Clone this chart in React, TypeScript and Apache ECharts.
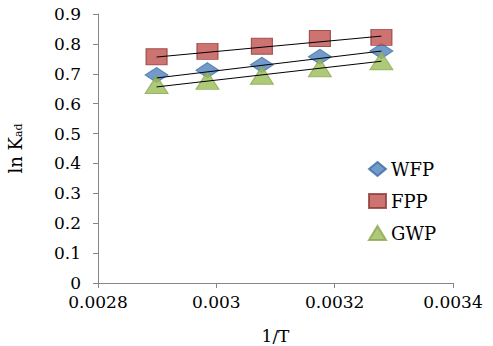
import React, { useEffect, useRef } from "react";
import * as echarts from "echarts";

const invT = [0.002899, 0.002985, 0.003077, 0.003175, 0.003279];
const wfp = [0.696, 0.712, 0.73, 0.757, 0.776];
const fpp = [0.757, 0.775, 0.792, 0.818, 0.822];
const gwp = [0.664, 0.678, 0.695, 0.72, 0.743];
const trendX = [0.002899, 0.003279];
const wfpTrend = [0.686, 0.776];
const fppTrend = [0.756, 0.826];
const gwpTrend = [0.656, 0.742];
const xTicks = { min: 0.0028, max: 0.0034, step: 0.0002 };
const yTicks = { min: 0, max: 0.9, step: 0.1 };

const serif = "'DejaVu Serif', 'Liberation Serif', serif";

export default function App() {
  const ref = useRef<HTMLDivElement>(null);
  useEffect(() => {
    if (!ref.current) return;
    document.body.style.margin = "0";
    document.body.style.overflow = "hidden";
    const chart = echarts.init(ref.current, undefined, { renderer: "svg" });
    const pair = (xs: number[], ys: number[]) => xs.map((x, i) => [x, ys[i]]);
    const axisColor = "#868686";
    chart.setOption({
      animation: false,
      grid: { left: 98, right: 40, top: 14, bottom: 63, containLabel: false, outerBoundsMode: "none" },
      legend: {
        orient: "vertical",
        left: 363,
        top: 155,
        itemGap: 14,
        itemWidth: 17,
        itemHeight: 14,
        data: ["WFP", "FPP", "GWP"],
        textStyle: { fontFamily: serif, fontSize: 18, color: "#000" },
      },
      xAxis: {
        type: "value",
        min: xTicks.min,
        max: xTicks.max,
        interval: xTicks.step,
        name: "1/T",
        nameLocation: "middle",
        nameGap: 44,
        nameTextStyle: { fontFamily: serif, fontSize: 17, color: "#000" },
        axisLine: { lineStyle: { color: axisColor } },
        axisTick: { length: 5, lineStyle: { color: axisColor } },
        splitLine: { show: false },
        axisLabel: {
          fontFamily: serif,
          fontSize: 17,
          color: "#000",
          margin: 10,
          formatter: (v: number) => parseFloat(v.toFixed(4)).toString(),
        },
      },
      yAxis: {
        type: "value",
        min: yTicks.min,
        max: yTicks.max,
        interval: yTicks.step,
        name: "{a|ln K}{b|ad}",
        nameLocation: "middle",
        nameGap: 74,
        nameRotate: 90,
        nameTextStyle: {
          rich: {
            a: { fontFamily: serif, fontSize: 18, color: "#000" },
            b: { fontFamily: serif, fontSize: 11, color: "#000", verticalAlign: "bottom", padding: [7, 0, 0, 0] },
          },
        },
        axisLine: { show: true, lineStyle: { color: axisColor } },
        axisTick: { show: true, length: 5, lineStyle: { color: axisColor } },
        splitLine: { show: false },
        axisLabel: {
          fontFamily: serif,
          fontSize: 17,
          color: "#000",
          margin: 17,
          formatter: (v: number) => parseFloat(v.toFixed(1)).toString(),
        },
      },
      series: [
        {
          name: "WFP",
          type: "scatter",
          symbol: "diamond",
          symbolSize: [23, 15],
          itemStyle: { color: "#4F81BD", borderColor: "#3A6BA5", borderWidth: 1 },
          data: pair(invT, wfp),
          z: 2,
        },
        {
          name: "FPP",
          type: "scatter",
          symbol: "rect",
          symbolSize: [21, 16],
          itemStyle: { color: "#C0504D", borderColor: "#8C3836", borderWidth: 1 },
          data: pair(invT, fpp),
          z: 2,
        },
        {
          name: "GWP",
          type: "scatter",
          symbol: "triangle",
          symbolSize: [23, 18],
          itemStyle: { color: "#9BBB59", borderColor: "#8AA84C", borderWidth: 1 },
          data: pair(invT, gwp),
          z: 3,
        },
        ...[wfpTrend, fppTrend, gwpTrend].map((t) => ({
          type: "line",
          showSymbol: false,
          silent: true,
          data: pair(trendX, t),
          lineStyle: { color: "#000", width: 1 },
          z: 5,
        })),
      ],
    });
    return () => chart.dispose();
  }, []);
  return <div ref={ref} style={{ width: 493, height: 346, overflow: "hidden" }} />;
}
